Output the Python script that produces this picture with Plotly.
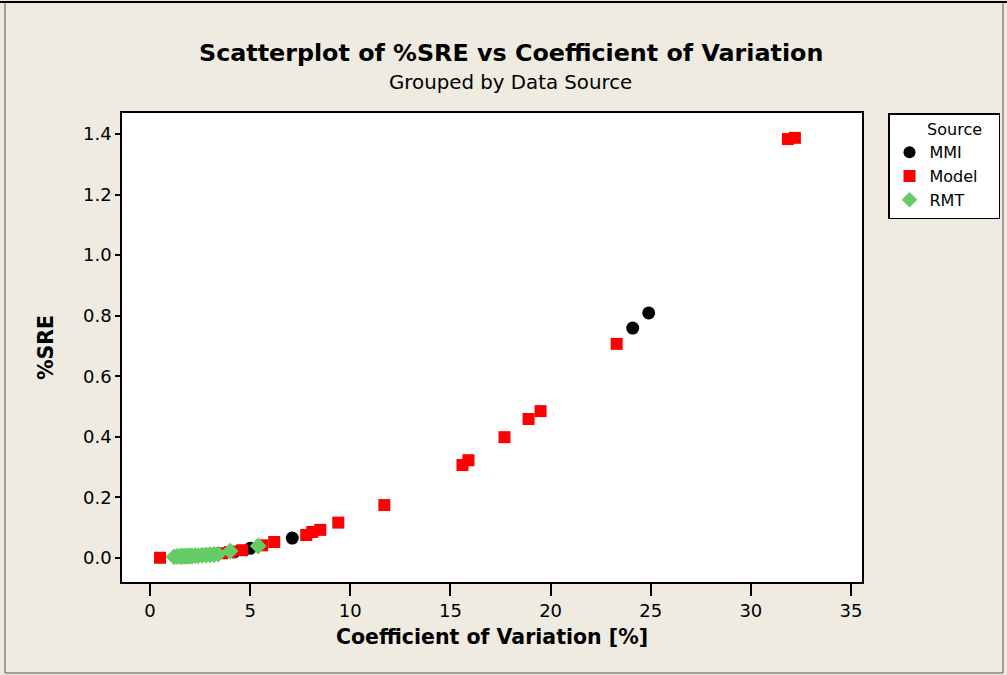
import plotly.graph_objects as go

# ---- data ----
mmi_cv = [4.2, 5.0, 7.1, 24.1, 24.9]
mmi_sre = [0.020, 0.032, 0.066, 0.759, 0.809]

model_cv = [0.5, 1.6, 2.0, 2.4, 2.8, 3.2, 3.6, 4.0, 4.6, 5.6, 6.2, 7.8, 8.1, 8.5, 9.4,
            11.7, 15.6, 15.9, 17.7, 18.9, 19.5, 23.3, 31.85, 32.2]
model_sre = [0.001, 0.006, 0.008, 0.010, 0.012, 0.014, 0.016, 0.020, 0.026, 0.042, 0.053, 0.076, 0.086, 0.093, 0.117,
             0.175, 0.307, 0.323, 0.399, 0.459, 0.485, 0.707, 1.383, 1.387]

rmt_cv = [1.2, 1.35, 1.5, 1.6, 1.7, 1.8, 1.9, 2.0, 2.1, 2.25, 2.4, 2.6, 2.8, 3.0, 3.2, 3.4, 4.0, 5.4]
rmt_sre = [0.004, 0.005, 0.005, 0.006, 0.006, 0.006, 0.007, 0.007, 0.007, 0.008, 0.008, 0.009, 0.010, 0.011, 0.012, 0.013, 0.023, 0.040]

x_ticks = [0, 5, 10, 15, 20, 25, 30, 35]
y_ticks = [0.0, 0.2, 0.4, 0.6, 0.8, 1.0, 1.2, 1.4]
y_ticklabels = [f"{v:.1f}" for v in y_ticks]

BG = "#EFEBE1"
FONT = "DejaVu Sans"
NB = "\u00a0"

fig = go.Figure()
fig.add_trace(go.Scatter(x=mmi_cv, y=mmi_sre, mode="markers", name="MMI",
                         marker=dict(symbol="circle", size=13, color="#000000")))
fig.add_trace(go.Scatter(x=model_cv, y=model_sre, mode="markers", name="Model" + NB * 3,
                         marker=dict(symbol="square", size=12, color="#FF0000")))
fig.add_trace(go.Scatter(x=rmt_cv, y=rmt_sre, mode="markers", name="RMT",
                         marker=dict(symbol="diamond", size=13, color="#66CC66")))

fig.update_layout(
    width=1007, height=675,
    paper_bgcolor=BG, plot_bgcolor="white",
    margin=dict(l=122, r=145, t=113, b=93, autoexpand=False),
    font=dict(family=FONT, color="black", size=16),
    showlegend=True,
    legend=dict(x=(888 - 122) / 740, y=1.0, xanchor="left", yanchor="top",
                bgcolor="white", bordercolor="black", borderwidth=1.5,
                title=dict(text=NB * 7 + "Source", font=dict(size=16, family=FONT)),
                font=dict(size=16, family=FONT), itemsizing="constant",
                tracegroupgap=0),
    xaxis=dict(range=[-1.4, 35.55], tickmode="array", tickvals=x_ticks,
               ticks="outside", ticklen=12, tickwidth=1.5, tickcolor="black",
               showline=True, linecolor="black", linewidth=1.5, mirror=True,
               showgrid=False, zeroline=False,
               tickfont=dict(size=18, family=FONT),
               title=dict(text="<b>Coefficient of Variation [%]</b>", font=dict(size=20.5, family=FONT), standoff=9)),
    yaxis=dict(range=[-0.079, 1.469], tickmode="array", tickvals=y_ticks, ticktext=y_ticklabels,
               ticks="outside", ticklen=5, tickwidth=1.5, tickcolor="black",
               showline=True, linecolor="black", linewidth=1.5, mirror=True,
               showgrid=False, zeroline=False,
               tickfont=dict(size=18, family=FONT),
               title=dict(text="<b>%SRE</b>", font=dict(size=20.5, family=FONT), standoff=24)),
)

fig.add_annotation(text="<b>Scatterplot of %SRE vs Coefficient of Variation</b>",
                   xref="paper", yref="paper", x=(511 - 122) / 740, y=(582 - 53) / 469,
                   showarrow=False, xanchor="center", yanchor="middle",
                   font=dict(size=23.8, family=FONT, color="black"))
fig.add_annotation(text="Grouped by Data Source",
                   xref="paper", yref="paper", x=(511 - 122) / 740, y=(582 - 83) / 469,
                   showarrow=False, xanchor="center", yanchor="middle",
                   font=dict(size=19.8, family=FONT, color="black"))

# outer frame of the graph window
fig.add_shape(type="rect", xref="paper", yref="paper",
              x0=(5 - 122) / 740, x1=(1003 - 122) / 740,
              y0=(582 - 673) / 469, y1=(582 - 2) / 469,
              line=dict(color="#555555", width=1), layer="below")
fig.add_shape(type="line", xref="paper", yref="paper",
              x0=(0 - 122) / 740, x1=(1007 - 122) / 740,
              y0=(582 - 2) / 469, y1=(582 - 2) / 469,
              line=dict(color="black", width=2))

fig.write_html("out.html", config={"displayModeBar": False},
               post_script="document.body.style.margin='0';document.body.style.background='" + BG + "';document.body.style.overflow='hidden';")
